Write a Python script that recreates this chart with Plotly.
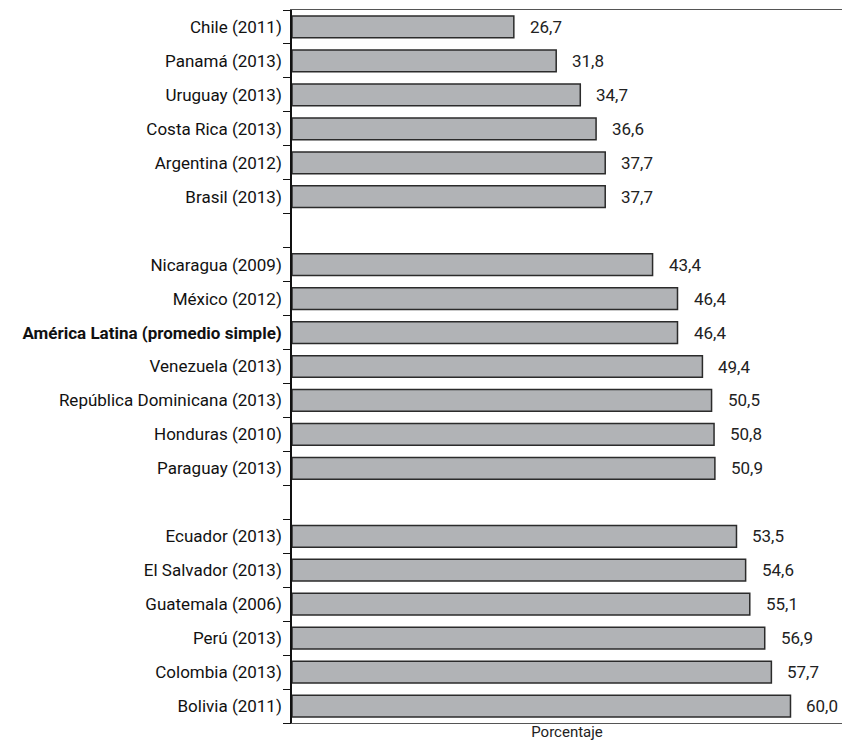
import plotly.graph_objects as go

categories = [
    "Chile (2011)", "Panamá (2013)", "Uruguay (2013)", "Costa Rica (2013)",
    "Argentina (2012)", "Brasil (2013)", " ",
    "Nicaragua (2009)", "México (2012)", "<b>América Latina (promedio simple)</b>",
    "Venezuela (2013)", "República Dominicana (2013)", "Honduras (2010)",
    "Paraguay (2013)", "  ",
    "Ecuador (2013)", "El Salvador (2013)", "Guatemala (2006)", "Perú (2013)",
    "Colombia (2013)", "Bolivia (2011)",
]
values = [
    26.7, 31.8, 34.7, 36.6, 37.7, 37.7, None,
    43.4, 46.4, 46.4, 49.4, 50.5, 50.8, 50.9, None,
    53.5, 54.6, 55.1, 56.9, 57.7, 60.0,
]
x_title = "Porcentaje"

FONT = "Roboto"
n = len(categories)
yrange = [n - 0.5, -0.5]
boundaries = [i - 0.5 for i in range(n + 1)]

fig = go.Figure()
fig.add_trace(go.Bar(
    y=categories, x=values, orientation="h",
    marker=dict(color="#b1b3b6", line=dict(color="#2b2b2b", width=1.5)),
    width=0.64, hoverinfo="skip",
))
fig.add_trace(go.Scatter(x=[0] * len(boundaries), y=boundaries, yaxis="y2", mode="lines",
                         line=dict(width=0), showlegend=False, hoverinfo="skip"))

for c, v in zip(categories, values):
    if v is None:
        continue
    fig.add_annotation(
        x=v, y=c, xref="x", yref="y", text=f"{v:.1f}".replace(".", ","),
        showarrow=False, xanchor="left", xshift=14,
        font=dict(family=FONT, size=17, color="#222222"),
    )

fig.update_layout(
    template="none",
    width=842, height=751,
    margin=dict(l=292, r=0, t=10, b=28),
    plot_bgcolor="white", paper_bgcolor="white",
    showlegend=False,
    font=dict(family=FONT, size=17, color="#111111"),
    xaxis=dict(
        range=[0, 66.2], showgrid=False, zeroline=False,
        showticklabels=False, ticks="",
        showline=True, linecolor="#555555", linewidth=1, mirror=True,
        title=dict(text=x_title, font=dict(family=FONT, size=15, color="#222222"), standoff=3),
    ),
    yaxis=dict(
        type="category",
        categoryorder="array", categoryarray=categories,
        range=yrange, showgrid=False, zeroline=False,
        showline=True, linecolor="#111111", linewidth=1.5,
        ticks="outside", ticklen=5, tickcolor="rgba(0,0,0,0)",
    ),
    yaxis2=dict(
        overlaying="y", side="left", anchor="x",
        range=yrange, tickmode="array", tickvals=boundaries,
        showticklabels=False, showgrid=False, zeroline=False,
        ticks="outside", ticklen=8, tickcolor="#111111", tickwidth=1.3,
        showline=False,
    ),
)

fig.write_html("out.html")
